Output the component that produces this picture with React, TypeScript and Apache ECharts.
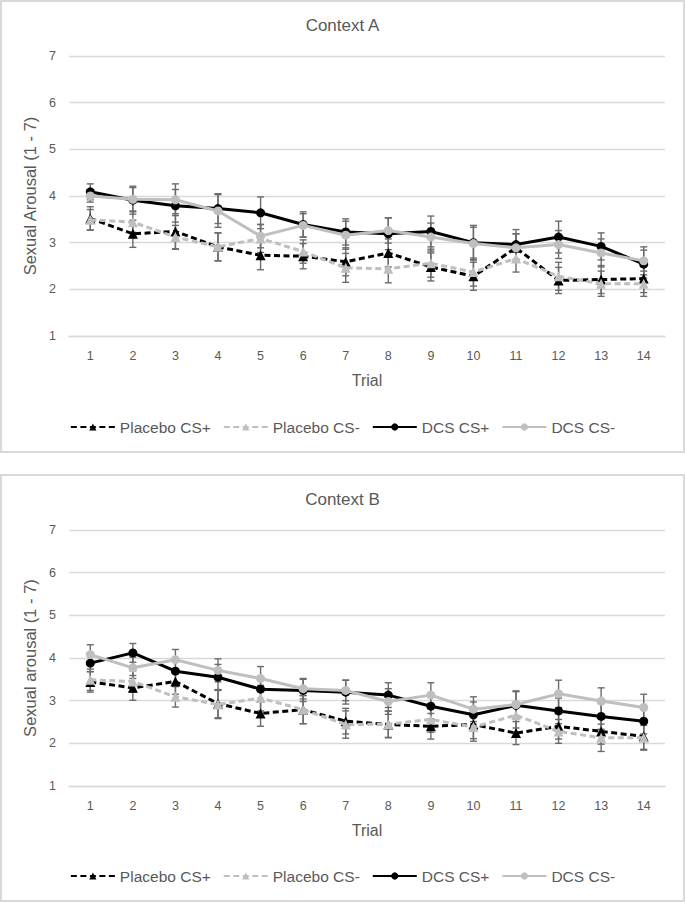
import React, { useEffect, useRef } from "react";
import * as echarts from "echarts";

const trials = ["1", "2", "3", "4", "5", "6", "7", "8", "9", "10", "11", "12", "13", "14"];
const seriesNames = ["Placebo CS+", "Placebo CS-", "DCS CS+", "DCS CS-"];

// Context A means and error (SE)
const aPlaceboPlus = [3.52, 3.19, 3.24, 2.91, 2.73, 2.71, 2.59, 2.78, 2.48, 2.28, 2.89, 2.19, 2.21, 2.23];
const aPlaceboPlusErr = [0.25, 0.29, 0.38, 0.3, 0.31, 0.27, 0.3, 0.3, 0.3, 0.3, 0.3, 0.28, 0.3, 0.3];
const aPlaceboMinus = [3.49, 3.44, 3.12, 2.91, 3.09, 2.81, 2.46, 2.44, 2.56, 2.37, 2.66, 2.28, 2.12, 2.12];
const aPlaceboMinusErr = [0.22, 0.22, 0.25, 0.3, 0.3, 0.25, 0.31, 0.3, 0.3, 0.3, 0.29, 0.3, 0.27, 0.27];
const aDcsPlus = [4.09, 3.91, 3.79, 3.73, 3.64, 3.39, 3.23, 3.19, 3.24, 3.0, 2.96, 3.12, 2.92, 2.54];
const aDcsPlusErr = [0.17, 0.3, 0.35, 0.32, 0.34, 0.27, 0.28, 0.34, 0.33, 0.37, 0.32, 0.34, 0.29, 0.3];
const aDcsMinus = [4.0, 3.93, 3.92, 3.68, 3.14, 3.37, 3.16, 3.26, 3.12, 2.98, 2.89, 2.96, 2.78, 2.61];
const aDcsMinusErr = [0.13, 0.25, 0.34, 0.35, 0.25, 0.25, 0.3, 0.27, 0.3, 0.35, 0.3, 0.3, 0.3, 0.3];

// Context B means and error (SE)
const bPlaceboPlus = [3.44, 3.3, 3.45, 2.93, 2.7, 2.79, 2.52, 2.44, 2.4, 2.44, 2.24, 2.4, 2.28, 2.16];
const bPlaceboPlusErr = [0.24, 0.29, 0.3, 0.33, 0.3, 0.33, 0.3, 0.31, 0.3, 0.33, 0.27, 0.3, 0.3, 0.3];
const bPlaceboMinus = [3.49, 3.45, 3.09, 2.91, 3.06, 2.79, 2.44, 2.45, 2.56, 2.38, 2.66, 2.28, 2.13, 2.13];
const bPlaceboMinusErr = [0.25, 0.25, 0.24, 0.33, 0.3, 0.33, 0.32, 0.31, 0.3, 0.33, 0.3, 0.28, 0.32, 0.29];
const bDcsPlus = [3.88, 4.12, 3.69, 3.55, 3.27, 3.24, 3.2, 3.13, 2.87, 2.67, 2.89, 2.76, 2.63, 2.52];
const bDcsPlusErr = [0.2, 0.22, 0.3, 0.3, 0.28, 0.26, 0.28, 0.29, 0.3, 0.3, 0.32, 0.3, 0.3, 0.3];
const bDcsMinus = [4.08, 3.77, 3.96, 3.71, 3.52, 3.28, 3.24, 2.98, 3.13, 2.8, 2.91, 3.16, 2.99, 2.84];
const bDcsMinusErr = [0.23, 0.25, 0.24, 0.27, 0.28, 0.24, 0.24, 0.3, 0.29, 0.29, 0.32, 0.32, 0.31, 0.31];

const yTicks = [1, 7];

const FONT = "Liberation Sans";
const TEXT = "#595959";
const GRID = "#d9d9d9";
const ERR = "#6b6b6b";

const styles = [
  { color: "#000000", dash: [6, 3.5] as any, symbol: "triangle", size: 10 },
  { color: "#bfbfbf", dash: [6, 3.5] as any, symbol: "triangle", size: 10 },
  { color: "#000000", dash: "solid" as any, symbol: "circle", size: 9 },
  { color: "#bfbfbf", dash: "solid" as any, symbol: "circle", size: 9 },
];

function errorRender(params: any, api: any) {
  const x = api.value(0);
  const lo = api.coord([x, api.value(1)]);
  const hi = api.coord([x, api.value(2)]);
  const w = 3.5;
  const style = { stroke: ERR, lineWidth: 1.4, fill: null };
  return {
    type: "group",
    children: [
      { type: "line", shape: { x1: hi[0], y1: hi[1], x2: lo[0], y2: lo[1] }, style },
      { type: "line", shape: { x1: hi[0] - w, y1: hi[1], x2: hi[0] + w, y2: hi[1] }, style },
      { type: "line", shape: { x1: lo[0] - w, y1: lo[1], x2: lo[0] + w, y2: lo[1] }, style },
    ],
  };
}

function buildOption(title: string, yName: string, height: number, plotH: number, means: number[][], errs: number[][]) {
  const series: any[] = [];
  means.forEach((m, k) => {
    series.push({
      name: seriesNames[k] + " error",
      type: "custom",
      renderItem: errorRender,
      data: m.map((v, i) => [i, v - errs[k][i], v + errs[k][i]]),
      encode: { x: 0, y: [1, 2] },
      z: 1,
      silent: true,
    });
  });
  means.forEach((m, k) => {
    const s = styles[k];
    series.push({
      name: seriesNames[k],
      type: "line",
      data: m,
      symbol: s.symbol,
      symbolSize: s.size,
      showSymbol: true,
      itemStyle: { color: s.color },
      lineStyle: { color: s.color, width: 3, type: s.dash },
      z: 2 + k,
    });
  });
  return {
    animation: false,
    textStyle: { fontFamily: FONT },
    title: {
      text: title,
      left: "center",
      top: 10,
      textStyle: { fontSize: 17, fontWeight: "normal", color: TEXT, fontFamily: FONT },
    },
    legend: {
      data: seriesNames,
      left: "center",
      top: height - 29 - 9,
      itemWidth: 44,
      itemHeight: 9,
      itemGap: 12,
      textStyle: { fontSize: 15.5, color: TEXT, fontFamily: FONT, lineHeight: 18 },
    },
    grid: { left: 67, right: 18, top: 54, bottom: height - 54 - plotH },
    xAxis: {
      type: "category",
      data: trials,
      boundaryGap: true,
      name: "Trial",
      nameLocation: "middle",
      nameGap: 36,
      nameTextStyle: { fontSize: 16, color: TEXT, fontFamily: FONT },
      axisLine: { show: true, lineStyle: { color: GRID, width: 1.3 } },
      axisTick: { show: false },
      axisLabel: { color: TEXT, fontSize: 12.5, margin: 13, fontFamily: FONT },
    },
    yAxis: {
      type: "value",
      min: yTicks[0],
      max: yTicks[1],
      interval: 1,
      name: yName,
      nameLocation: "middle",
      nameGap: 28,
      nameTextStyle: { fontSize: 16.5, color: TEXT, fontFamily: FONT },
      axisLine: { show: false },
      axisTick: { show: false },
      axisLabel: { color: TEXT, fontSize: 12.5, margin: 13, fontFamily: FONT },
      splitLine: { lineStyle: { color: GRID, width: 1.3 } },
    },
    series,
  };
}

function Panel(props: { top: number; height: number; plotH: number; title: string; yName: string; means: number[][]; errs: number[][] }) {
  const ref = useRef<HTMLDivElement>(null);
  const inner = props.height - 4;
  useEffect(() => {
    if (!ref.current) return;
    const chart = echarts.init(ref.current, undefined, { renderer: "svg" });
    chart.setOption(buildOption(props.title, props.yName, inner, props.plotH, props.means, props.errs) as any);
    return () => chart.dispose();
  }, []);
  return (
    <div
      style={{
        position: "absolute",
        left: 0,
        top: props.top,
        width: 685,
        height: props.height,
        boxSizing: "border-box",
        border: "2px solid #d9d9d9",
        background: "#ffffff",
      }}
    >
      <div ref={ref} style={{ width: 681, height: inner }} />
    </div>
  );
}

export default function App() {
  return (
    <div style={{ position: "absolute", left: 0, top: 0, width: 685, height: 903, background: "#ffffff" }}>
      <Panel
        top={0}
        height={453}
        plotH={280}
        title="Context A"
        yName="Sexual Arousal (1 - 7)"
        means={[aPlaceboPlus, aPlaceboMinus, aDcsPlus, aDcsMinus]}
        errs={[aPlaceboPlusErr, aPlaceboMinusErr, aDcsPlusErr, aDcsMinusErr]}
      />
      <Panel
        top={474}
        height={428}
        plotH={256}
        title="Context B"
        yName="Sexual arousal (1 - 7)"
        means={[bPlaceboPlus, bPlaceboMinus, bDcsPlus, bDcsMinus]}
        errs={[bPlaceboPlusErr, bPlaceboMinusErr, bDcsPlusErr, bDcsMinusErr]}
      />
    </div>
  );
}
